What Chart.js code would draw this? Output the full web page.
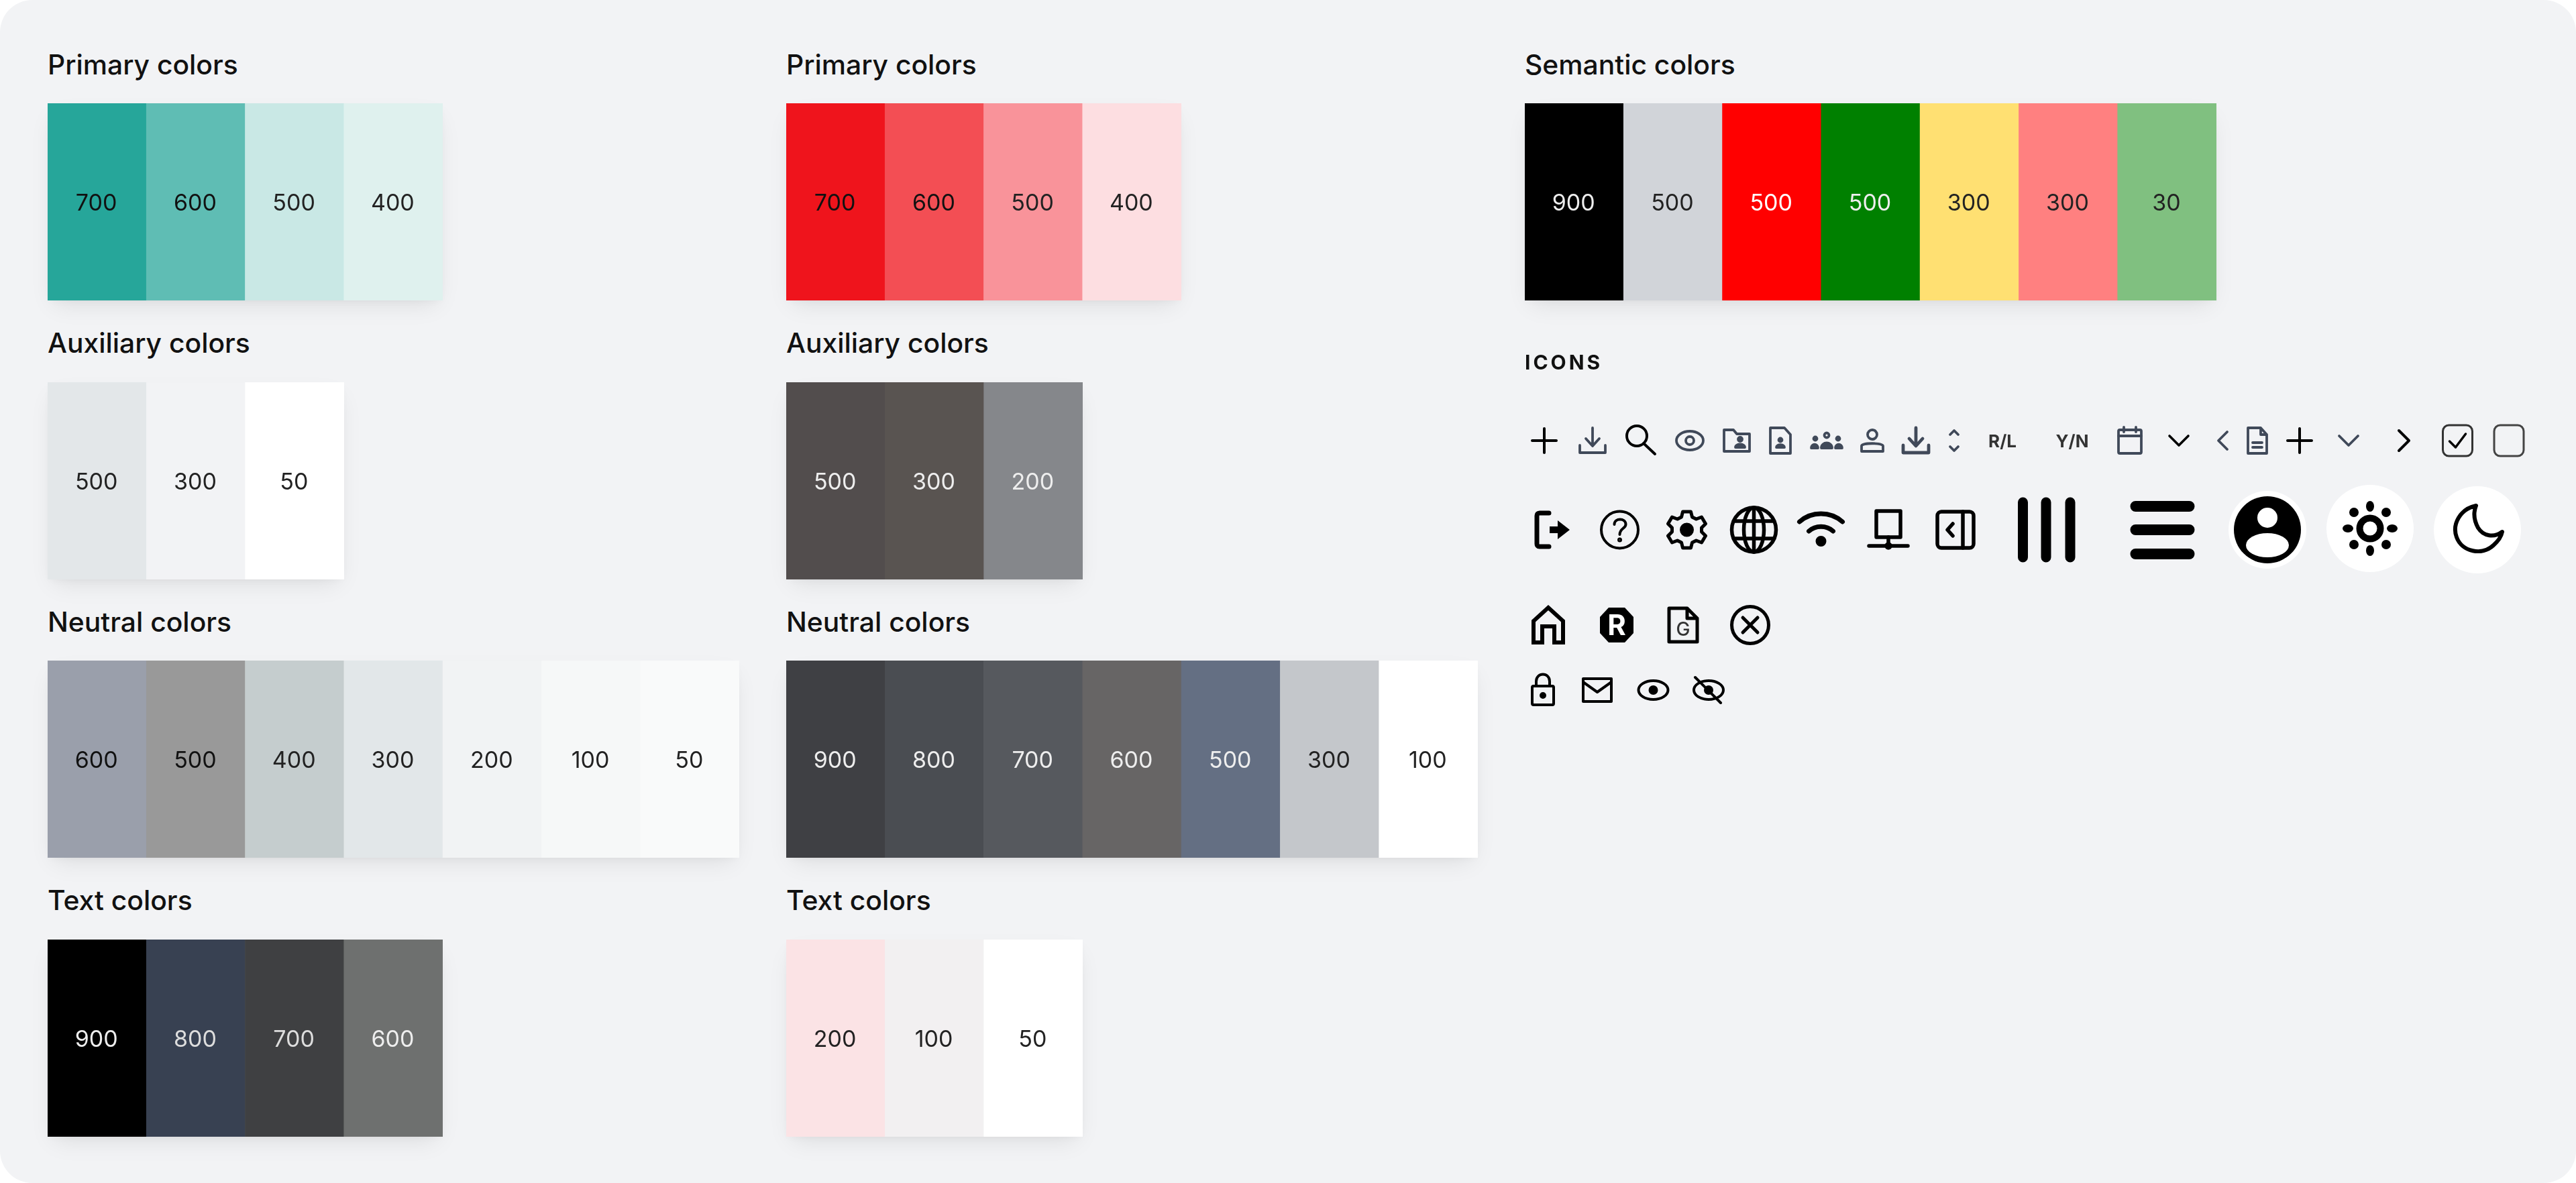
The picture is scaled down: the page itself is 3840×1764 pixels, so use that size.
<!DOCTYPE html>
<html>
<head>
<meta charset="utf-8">
<script src="https://cdn.jsdelivr.net/npm/chart.js@4"></script>
<style>
  html, body { margin: 0; padding: 0; background: #fff; }
  #card { position: absolute; left: 0; top: 0; width: 3840px; height: 1764px; background: #f2f3f5; border-radius: 48px; overflow: hidden; font-family: Inter, sans-serif; }
  #card h4 { position: absolute; margin: 0; font-size: 40.8px; line-height: 48px; font-weight: 500; color: #111; white-space: nowrap; }
  #card canvas { position: absolute; box-shadow: 0 14px 34px -10px rgba(0,0,0,.10), 0 4px 12px -4px rgba(0,0,0,.04); }
  #icons { position: absolute; left: 0; top: 0; }
  #icons .s { fill: none; stroke: #000; stroke-width: 4; stroke-linecap: round; stroke-linejoin: round; }
  #icons .g { fill: none; stroke: #404959; stroke-width: 3.8; stroke-linecap: round; stroke-linejoin: round; }
  #icons .t { font-family: Inter, sans-serif; font-weight: 700; fill: #111; }
</style>
</head>
<body>
<div id="card">
  <h4 style="left:71px;top:72px">Primary colors</h4>
  <h4 style="left:71px;top:487px">Auxiliary colors</h4>
  <h4 style="left:71px;top:903px">Neutral colors</h4>
  <h4 style="left:71px;top:1318px">Text colors</h4>
  <h4 style="left:1172px;top:72px">Primary colors</h4>
  <h4 style="left:1172px;top:487px">Auxiliary colors</h4>
  <h4 style="left:1172px;top:903px">Neutral colors</h4>
  <h4 style="left:1172px;top:1318px">Text colors</h4>
  <h4 style="left:2273px;top:72px">Semantic colors</h4>

  <canvas id="tealPrimary" width="589" height="294" style="left:71px;top:154px"></canvas>
  <canvas id="tealAux" width="442" height="294" style="left:71px;top:570px"></canvas>
  <canvas id="tealNeutral" width="1031" height="294" style="left:71px;top:985px"></canvas>
  <canvas id="tealText" width="589" height="294" style="left:71px;top:1401px"></canvas>
  <canvas id="redPrimary" width="589" height="294" style="left:1172px;top:154px"></canvas>
  <canvas id="redAux" width="442" height="294" style="left:1172px;top:570px"></canvas>
  <canvas id="redNeutral" width="1031" height="294" style="left:1172px;top:985px"></canvas>
  <canvas id="redText" width="442" height="294" style="left:1172px;top:1401px"></canvas>
  <canvas id="semantic" width="1031" height="294" style="left:2273px;top:154px"></canvas>

  <svg id="icons" width="3840" height="1764" viewBox="0 0 3840 1764">
    <text class="t" x="2273" y="551" font-size="30" letter-spacing="4">ICONS</text>

    <!-- first icon row -->
    <g transform="translate(2302,657)" class="s"><path d="M-18 0H18M0-18V18"/></g>
    <g transform="translate(2374,657)" class="g"><path d="M0-19V7M-10-3L0 8 10-3M-19 7V18H19V7"/></g>
    <g transform="translate(2444,657)" class="s"><circle cx="-4" cy="-7" r="15"/><path d="M6 4L23 20"/></g>
    <g transform="translate(2519,657)" class="g"><ellipse rx="20" ry="14"/><circle r="6"/></g>
    <g transform="translate(2589,657)" class="g"><path d="M-19-16H-5L0-10H19V16H-19Z"/><circle cx="5" cy="-2" r="3" fill="#404959"/><path d="M-2 10C-2 4 12 4 12 10Z" fill="#404959"/></g>
    <g transform="translate(2654,657)" class="g"><path d="M-15-19H6L15-9V19H-15Z"/><circle cx="0" cy="-1" r="2.5" fill="#404959"/><path d="M-6 10C-6 5 6 5 6 10Z" fill="#404959"/></g>
    <g transform="translate(2723,657)" class="g"><circle cx="0" cy="-8" r="3.5"/><circle cx="-17" cy="-3" r="2.5" fill="#404959"/><circle cx="17" cy="-3" r="2.5" fill="#404959"/><path d="M-8 11C-8 1 8 1 8 11ZM-23 11C-23 4 -13 4 -13 11ZM13 11C13 4 23 4 23 11Z" fill="#404959"/></g>
    <g transform="translate(2791,657)" class="g"><circle cy="-9" r="7"/><path d="M-16 16V8C-16 3 16 3 16 8V16Z"/></g>
    <g transform="translate(2856,657)" class="g" style="stroke-width:4.8"><path d="M0-19V7M-10-3L0 8 10-3M-19 7V18H19V7"/></g>
    <g transform="translate(2913,657)" class="g"><path d="M-6-9L0-15 6-9M-6 9L0 15 6 9"/></g>
    <text class="t" x="2985" y="667" font-size="26" text-anchor="middle" style="fill:#333">R/L</text>
    <text class="t" x="3089" y="667" font-size="26" text-anchor="middle" style="fill:#333">Y/N</text>
    <g transform="translate(3175,657)" class="g"><rect x="-17" y="-16" width="34" height="35" rx="2"/><path d="M-17-7H17M-9-20V-13M9-20V-13"/></g>
    <g transform="translate(3248,657)" class="s" style="stroke-width:3.6"><path d="M-14-7L0 7 14-7"/></g>
    <g transform="translate(3313,657)" class="g"><path d="M7-13L-6 0 7 13"/></g>
    <g transform="translate(3365,657)" class="g"><path d="M-14-19H5L14-9V19H-14ZM5-19V-9H14M-7 3H7M-7 10H7"/></g>
    <g transform="translate(3428,657)" class="s"><path d="M-18 0H18M0-18V18"/></g>
    <g transform="translate(3501,657)" class="g"><path d="M-14-7L0 7 14-7"/></g>
    <g transform="translate(3583,657)" class="s"><path d="M-7-15L8 0-7 15"/></g>
    <g transform="translate(3663.5,657)" class="s" style="stroke-width:3;stroke:#333"><rect x="-22" y="-23" width="44" height="46" rx="9"/><path d="M-12 1L-3 10 12-10" style="stroke:#000;stroke-width:3.5"/></g>
    <g transform="translate(3740,657)" class="s" style="stroke-width:3;stroke:#444"><rect x="-22" y="-23" width="44" height="46" rx="9"/></g>

    <!-- second icon row -->
    <g transform="translate(2315,790)"><path class="s" style="stroke-width:7" d="M-6-25H-20C-23-25-24-23-24-21V21C-24 23-23 25-20 25H-6"/><path d="M-5-5H7V-14L25 0 7 14V5H-5Z" fill="#000"/></g>
    <g transform="translate(2414.5,790)" class="s"><circle r="27.5"/><path d="M-8-8C-8-18 9-18 9-8 9-2 0-2 0 7"/><circle cy="15" r="1.5"/></g>
    <g transform="translate(2514.5,790)" class="s" style="stroke-width:5"><path d="M-6-27H6L8-19 14-16 22-19 28-9 22-3V3L28 9 22 19 14 16 8 19 6 27H-6L-8 19-14 16-22 19-28 9-22 3V-3L-28-9-22-19-14-16-8-19Z"/><circle r="8" fill="#000"/></g>
    <g transform="translate(2614.5,790)" class="s" style="stroke-width:5.5"><circle r="33"/><ellipse rx="15" ry="33"/><path d="M-30-13H30M-30 13H30M0-33V33"/></g>
    <g transform="translate(2714.5,790)" class="s" style="stroke-width:7"><path d="M-32-12C-14-28 14-28 32-12M-18 2C-8-7 8-7 18 2"/><circle cy="17" r="4.5" fill="#000"/></g>
    <g transform="translate(2815,790)" class="s" style="stroke-width:5.5"><rect x="-18" y="-28" width="36" height="39"/><path d="M0 11V24M-29 24H29"/><circle cy="24" r="3" fill="#000"/></g>
    <g transform="translate(2915,790)" class="s" style="stroke-width:5.5"><rect x="-27" y="-27" width="54" height="54" rx="6"/><path d="M11-27V27M-4-9L-12 0-4 9"/></g>
    <g transform="translate(0,790)" class="s" style="stroke-width:15"><path d="M3015.5-41V41M3050-41V41M3086-41V41"/></g>
    <g transform="translate(3223.5,790)" class="s" style="stroke-width:16"><path d="M-40-35H40M-40 0H40M-40 36H40"/></g>
    <g transform="translate(3380,790)"><circle r="58" fill="#fff"/><circle r="50" fill="#000"/><circle cy="-18" r="15" fill="#fff"/><ellipse cy="23" rx="32" ry="18" fill="#fff"/></g>
    <g transform="translate(3533,788)"><circle r="65" fill="#fff"/><g class="s" style="stroke-width:10"><circle r="15.5"/></g><g fill="#000"><ellipse cy="-33" rx="6" ry="8"/><ellipse cy="33" rx="6" ry="8"/><ellipse cx="-33" rx="8" ry="6"/><ellipse cx="33" rx="8" ry="6"/><circle cx="-24" cy="-24" r="7"/><circle cx="24" cy="-24" r="7"/><circle cx="-24" cy="24" r="7"/><circle cx="24" cy="24" r="7"/></g></g>
    <g transform="translate(3693,790)"><circle r="65" fill="#fff"/><path class="s" style="stroke-width:6" d="M-2-36C-26-31-38-8-31 11-23 33 7 39 24 23 33 15 36 8 37 3 25 12 9 10 1-3-5-14-6-26-2-36Z"/></g>

    <!-- third icon row -->
    <g transform="translate(2308,932)" class="s" style="stroke-width:6"><path d="M-22 26V-6L0-26 22-6V26H9V2H-9V26Z" stroke-linejoin="miter"/></g>
    <g transform="translate(2410,932)"><path d="M-12-26H12L25-12V12L12 26H-12L-25 12V-12Z" fill="#000"/><text x="0" y="15" text-anchor="middle" font-family="Inter, sans-serif" font-weight="700" font-size="42" fill="#fff">R</text></g>
    <g transform="translate(2509,932)" class="s" style="stroke-width:5"><path d="M-21-25H6L21-10V25H-21ZM6-25V-10H21"/><text x="0" y="16" text-anchor="middle" font-family="Inter, sans-serif" font-weight="500" font-size="28" fill="#333" stroke="none">G</text></g>
    <g transform="translate(2609,932)" class="s" style="stroke-width:5"><circle r="27.5"/><path d="M-11-11L11 11M11-11L-11 11"/></g>

    <!-- fourth icon row -->
    <g transform="translate(2300,1029)" class="s"><rect x="-16" y="-6" width="32" height="28" rx="2"/><path d="M-10-6V-13C-10-27 10-27 10-13V-6"/><circle cy="8" r="3" fill="#000"/></g>
    <g transform="translate(2381,1029)" class="s"><rect x="-21" y="-17" width="42" height="34"/><path d="M-21-12L0 3 21-12"/></g>
    <g transform="translate(2464.5,1029)" class="s"><ellipse rx="22" ry="14"/><circle r="5" fill="#000"/></g>
    <g transform="translate(2547,1029)" class="s"><ellipse rx="22" ry="14"/><circle r="5" fill="#000"/><path d="M-20-19L18 19"/></g>
  </svg>
</div>

<script>
// swatch names, one list per group
var tealPrimaryShades = ['700', '600', '500', '400'];
var tealAuxShades = ['500', '300', '50'];
var tealNeutralShades = ['600', '500', '400', '300', '200', '100', '50'];
var tealTextShades = ['900', '800', '700', '600'];
var redPrimaryShades = ['700', '600', '500', '400'];
var redAuxShades = ['500', '300', '200'];
var redNeutralShades = ['900', '800', '700', '600', '500', '300', '100'];
var redTextShades = ['200', '100', '50'];
var semanticShades = ['900', '500', '500', '500', '300', '300', '30'];

// every swatch is one full-height bar
var tealPrimaryValues = [1, 1, 1, 1];
var tealAuxValues = [1, 1, 1];
var tealNeutralValues = [1, 1, 1, 1, 1, 1, 1];
var tealTextValues = [1, 1, 1, 1];
var redPrimaryValues = [1, 1, 1, 1];
var redAuxValues = [1, 1, 1];
var redNeutralValues = [1, 1, 1, 1, 1, 1, 1];
var redTextValues = [1, 1, 1];
var semanticValues = [1, 1, 1, 1, 1, 1, 1];

var tealPrimaryColors = ['#26a69a', '#5fbdb4', '#c9e8e5', '#dff1ee'];
var tealAuxColors = ['#e3e7e9', '#f2f3f5', '#ffffff'];
var tealNeutralColors = ['#9a9fab', '#999999', '#c5cdce', '#e2e7e9', '#f1f3f4', '#f6f8f8', '#f9fafa'];
var tealTextColors = ['#000000', '#384152', '#3f4042', '#6e706f'];
var redPrimaryColors = ['#ef141c', '#f34e54', '#f9939a', '#fddee1'];
var redAuxColors = ['#524d4d', '#595451', '#85878b'];
var redNeutralColors = ['#3f4044', '#4a4d52', '#56595e', '#676565', '#646f83', '#c4c7cb', '#ffffff'];
var redTextColors = ['#fbe3e5', '#f2f0f1', '#ffffff'];
var semanticColors = ['#000000', '#d1d4d9', '#ff0000', '#008000', '#ffe072', '#ff8080', '#80c080'];

var tealPrimaryText = ['#111', '#111', '#222', '#222'];
var tealAuxText = ['#222', '#222', '#222'];
var tealNeutralText = ['#111', '#111', '#222', '#222', '#222', '#222', '#222'];
var tealTextText = ['#eee', '#ddd', '#ddd', '#eee'];
var redPrimaryText = ['#111', '#111', '#222', '#222'];
var redAuxText = ['#eee', '#eee', '#eee'];
var redNeutralText = ['#eee', '#eee', '#eee', '#eee', '#eee', '#222', '#222'];
var redTextText = ['#222', '#222', '#222'];
var semanticText = ['#eee', '#222', '#fff', '#eee', '#222', '#222', '#222'];

// writes the shade name in the middle of each bar
var shadeLabels = {
  id: 'shadeLabels',
  afterDatasetsDraw: function (chart) {
    var ctx = chart.ctx;
    var colors = chart.options.plugins.shadeLabels.colors;
    ctx.save();
    ctx.font = '400 34px Inter, sans-serif';
    ctx.textAlign = 'center';
    ctx.textBaseline = 'middle';
    chart.getDatasetMeta(0).data.forEach(function (bar, i) {
      ctx.fillStyle = colors[i];
      ctx.fillText(chart.data.labels[i], bar.x - 1, chart.chartArea.top + chart.chartArea.height / 2 + 3);
    });
    ctx.restore();
  }
};

function draw(id, shades, values, colors, textColors) {
  new Chart(document.getElementById(id).getContext('2d'), {
    type: 'bar',
    plugins: [shadeLabels],
    data: { labels: shades, datasets: [{
      data: values, backgroundColor: colors, borderWidth: 0,
      barPercentage: 1, categoryPercentage: 1
    }]},
    options: {
      responsive: false, animation: false, devicePixelRatio: 1,
      plugins: { legend: { display: false }, tooltip: { enabled: false }, shadeLabels: { colors: textColors } },
      scales: {
        x: { display: false },
        y: { display: false, min: 0, max: 1 }
      }
    }
  });
}

draw('tealPrimary', tealPrimaryShades, tealPrimaryValues, tealPrimaryColors, tealPrimaryText);
draw('tealAux', tealAuxShades, tealAuxValues, tealAuxColors, tealAuxText);
draw('tealNeutral', tealNeutralShades, tealNeutralValues, tealNeutralColors, tealNeutralText);
draw('tealText', tealTextShades, tealTextValues, tealTextColors, tealTextText);
draw('redPrimary', redPrimaryShades, redPrimaryValues, redPrimaryColors, redPrimaryText);
draw('redAux', redAuxShades, redAuxValues, redAuxColors, redAuxText);
draw('redNeutral', redNeutralShades, redNeutralValues, redNeutralColors, redNeutralText);
draw('redText', redTextShades, redTextValues, redTextColors, redTextText);
draw('semantic', semanticShades, semanticValues, semanticColors, semanticText);
</script>
</body>
</html>
